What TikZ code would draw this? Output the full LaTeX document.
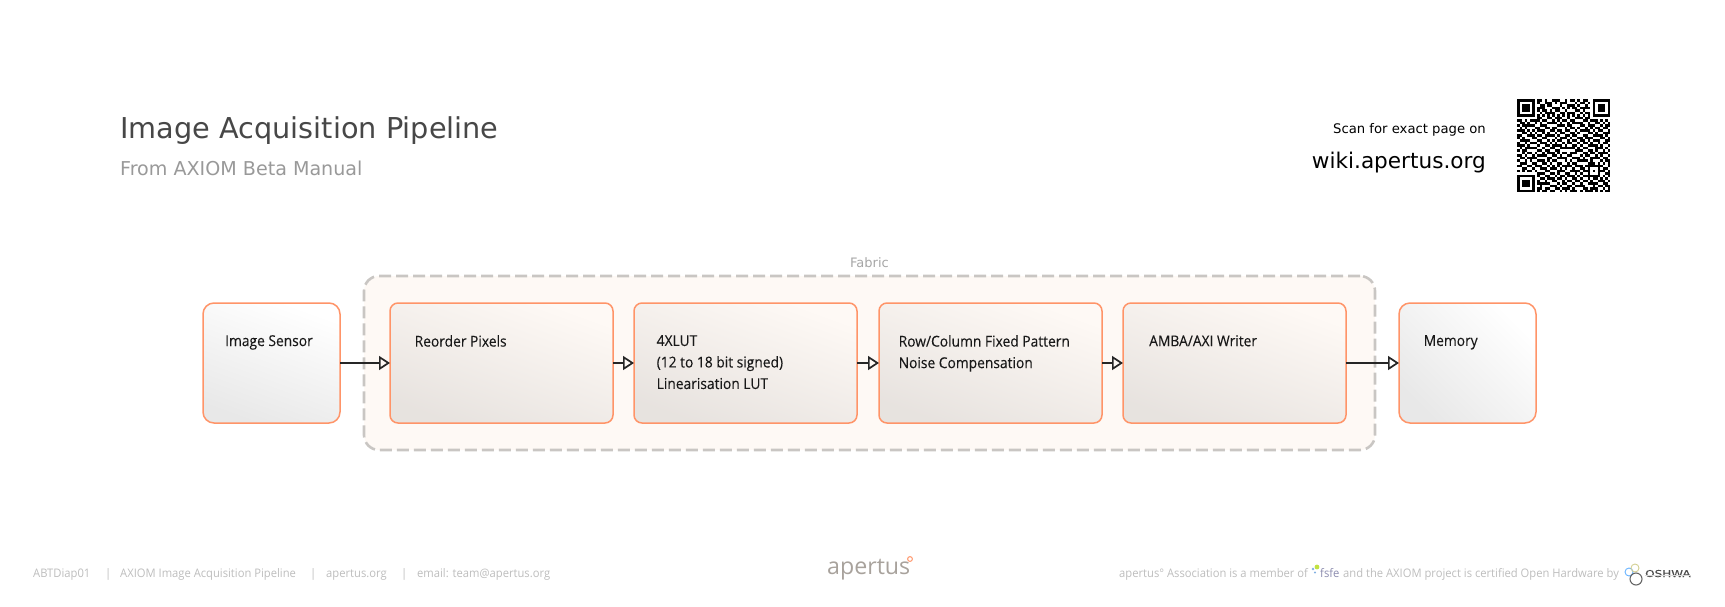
\documentclass[tikz,border=0pt]{standalone}
\usepackage{fontspec}
\setmainfont{DejaVu Sans}
\newfontfamily\opensans{Open Sans}
\newfontfamily\narrowsans[FakeStretch=.92,FakeBold=.12]{Open Sans}
\newfontfamily\footsans[FakeStretch=.95]{Open Sans}
\newfontfamily\oshwafont[FakeStretch=1.26,FakeBold=.2]{DejaVu Sans}
\usetikzlibrary{positioning}
\usetikzlibrary{arrows.meta}
\definecolor{boxedge}{HTML}{FF9468}
\definecolor{fabricedge}{HTML}{C9C6C3}
\definecolor{fabricfill}{HTML}{FEF9F5}
\definecolor{footgray}{HTML}{BDBDBD}
\definecolor{logogray}{HTML}{A8A29C}

\newcount\qrcol
\def\qrscan#1{\ifx#1;\else
  \ifx#11\fill[black] (1517+\the\qrcol*2.52,99+\qrrow*2.52) rectangle ++(2.52,2.52);\fi
  \advance\qrcol by 1 \expandafter\qrscan\fi}

\tikzset{
  unitbox/.style={draw=boxedge, line width=1.5pt, rounded corners=8pt, minimum height=120pt, outer sep=0pt},
  outerbox/.style={unitbox, minimum width=137pt, rounded corners=11pt, top color=white, bottom color=black!9, shading angle=-20},
  fabricbox/.style={unitbox, minimum width=223pt, top color=fabricfill, bottom color=black!9!fabricfill, shading angle=-20},
  boxtext/.style={font=\narrowsans\fontsize{15}{21.5}\selectfont, anchor=north west, align=left, inner sep=0pt, text=black!90},
  flow/.style={draw=black!85, line width=1.9pt, -{Triangle[open, length=11pt, width=14pt, line width=1.7pt]}},
  footnote/.style={font=\footsans\fontsize{11.8}{14}\selectfont, text=footgray, anchor=base west, inner sep=0pt},
}

\begin{document}
\begin{tikzpicture}[x=1pt, y=-1pt]
  \useasboundingbox (0,0) rectangle (1725,606);

  \node[anchor=base west, inner sep=0pt, text=black!72, font=\fontsize{28.75}{34}\selectfont] (title) at (120,138) {Image Acquisition Pipeline};
  \node[anchor=base west, inner sep=0pt, text=black!40, font=\fontsize{19.1}{24}\selectfont] (subtitle) at (120,175) {From AXIOM Beta Manual};
  \node[anchor=base east, inner sep=0pt, font=\fontsize{13.2}{16}\selectfont] (scan) at (1486,133) {Scan for exact page on};
  \node[anchor=base east, inner sep=0pt, font=\fontsize{21.6}{28}\selectfont] (wiki) at (1486,168) {wiki.apertus.org};

  % qr code, one string per row
  \foreach \qrbits [count=\qrrow from 0] in {%
    1111111011010011100101101011001111111,
    1000001010011101011100010110101000001,
    1011101001101100010011101001001011101,
    1011101011100011101010110111101011101,
    1011101010110101100100011010001011101,
    1000001001011110011011100101101000001,
    1111111010101010101010101010101111111,
    0000000011001101110010011101100000000,
    1101011110110010101101100011011101010,
    0110100101001111010010111100100110101,
    1011111001110000111011000110111001011,
    0101000110011011000101101001010110110,
    1110101011100110110110010111101011001,
    0011010100101001011001101000110100111,
    1100111011011110100110110011001111010,
    1010001100110001011101001101110001101,
    0111100011001010110010110110101110011,
    1001011101110101001011001011010010110,
    1110100010011011110100110100111101001,
    0101111100100110011111101011000111010,
    1011000011011001100000011100110100101,
    0010110100101110101101110011011011110,
    1101001011110011010011000101100101001,
    0110111100001100111100111010011110110,
    1001010011101011000101001111010001011,
    0111001100110100110010110000111010101,
    1100110111001010101111011101111111001,
    0011001001110111010100100110100010110,
    1010110100011000111001111011101011101,
    0000000011100110100110010100100010011,
    1111111010011001011011101011111110101,
    1000001001101110110100110100101101010,
    1011101010010011001011011011010011101,
    1011101011111000101100100100111100110,
    1011101001000111010011011110001011011,
    1000001011011001101110100011011100101,
    1111111010110110010101110101110101011}{%
    \global\qrcol=0 \expandafter\qrscan\qrbits;
  }

  \node[draw=fabricedge, fill=fabricfill, line width=2.6pt, rounded corners=15pt, dash pattern=on 12pt off 5pt, minimum width=1011pt, minimum height=174pt, inner sep=0pt, outer sep=0pt] (fabric) at (869.5,363) {};
  \node[above=8pt of fabric, inner sep=0pt, text=black!35, font=\fontsize{13}{15}\selectfont] (fabriclabel) {Fabric};

  \node[outerbox] (sensor) at (271.5,363) {};
  \node[fabricbox, right=50pt of sensor] (reorder) {};
  \node[fabricbox, right=21pt of reorder] (lut) {};
  \node[fabricbox, right=22pt of lut] (fpn) {};
  \node[fabricbox, right=21pt of fpn] (writer) {};
  \node[outerbox, right=53pt of writer, shading angle=-45] (memory) {};

  \node[boxtext] (sensortext) at (225,335) {Image Sensor};
  \node[boxtext] (reordertext) at (414.5,335) {Reorder Pixels};
  \node[boxtext] (luttext) at (656.5,335) {4XLUT\\(12 to 18 bit signed)\\Linearisation LUT};
  \node[boxtext] (fpntext) at (898.5,335) {Row/Column Fixed Pattern\\Noise Compensation};
  \node[boxtext] (writertext) at (1149,335) {AMBA/AXI Writer};
  \node[boxtext] (memorytext) at (1423.5,335) {Memory};

  \draw[flow] (sensor) -- (reorder);
  \draw[flow] (reorder) -- (lut);
  \draw[flow] (lut) -- (fpn);
  \draw[flow] (fpn) -- (writer);
  \draw[flow] (writer) -- (memory);

  % footer
  \node[footnote] (docid) at (33,577) {ABTDiap01};
  \node[footnote] (sep1) at (105,577) {|};
  \node[footnote] (docname) at (120,577) {AXIOM Image Acquisition Pipeline};
  \node[footnote] (sep2) at (310,577) {|};
  \node[footnote] (site) at (326,577) {apertus.org};
  \node[footnote] (sep3) at (401,577) {|};
  \node[footnote] (mail) at (417,577) {email: team@apertus.org};

  \node[anchor=base west, inner sep=0pt, text=logogray, font=\opensans\fontsize{23.2}{28}\selectfont] (logo) at (827,574.5) {apertus};
  \draw[boxedge, line width=1pt] (910,559) circle (2.4pt);

  \node[footnote] (member) at (1119,577) {apertus° Association is a member of};
  \fill[yellow!70!green!80] (1317,567) circle (2.4pt);
  \fill[cyan!60!blue!50] (1313,569) circle (1.3pt);
  \fill[cyan!60!blue!50] (1315,572.5) circle (1.1pt);
  \node[footnote, text=blue!30!black!45] (fsfe) at (1320,577) {fsfe};
  \node[footnote] (certified) at (1343,577) {and the AXIOM project is certified Open Hardware by};
  \draw[blue!50!cyan!60, line width=.9pt] (1629,572) circle (4pt);
  \draw[yellow!60!black!50, line width=.9pt] (1635,568) circle (4pt);
  \draw[black!60, line width=1.1pt] (1636,579) circle (6pt);
  \node[anchor=base west, inner sep=0pt, text=black!70, font=\oshwafont\fontsize{9.5}{11}\selectfont] (oshwa) at (1645,577) {OSHWA};
  \draw[black!15, line width=.8pt] (oshwa.south west) ++(0,-1.5) -- ++(46,0);
\end{tikzpicture}
\end{document}
